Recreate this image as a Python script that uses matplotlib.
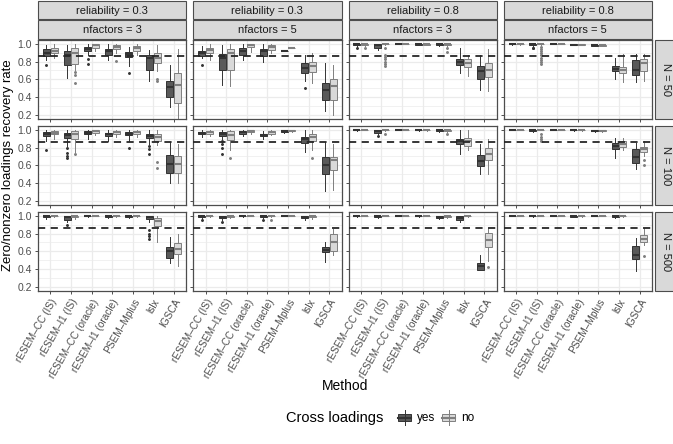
import matplotlib
matplotlib.use('Agg')
import matplotlib.pyplot as plt
from matplotlib.patches import Rectangle
from matplotlib.lines import Line2D

plt.rcParams['font.family'] = ['Liberation Sans', 'DejaVu Sans']

# ---------------- data ----------------
METHODS = ['rESEM–CC (IS)', 'rESEM–l1 (IS)', 'rESEM–CC (oracle)', 'rESEM–l1 (oracle)',
           'PSEM–Mplus', 'lslx', 'IGSCA']
RELIABILITY = ['0.3', '0.3', '0.8', '0.8']
NFACTORS = ['3', '5', '3', '5']
N_LABELS = ['50', '100', '500']
GROUPS = ['yes', 'no']
THRESHOLD = 0.86

# box statistics per panel: (whisker low, q1, median, q3, whisker high) for the 7 methods
# columns: (rel .3, nf 3), (rel .3, nf 5), (rel .8, nf 3), (rel .8, nf 5)
YES_N50 = [
    [(.82, .865, .90, .94, .99), (.61, .763, .876, .925, .99), (.876, .915, .94, .97, 1.0),
     (.82, .876, .915, .94, 1.0), (.75, .857, .887, .914, .97), (.575, .707, .84, .876, .93),
     (.29, .40, .512, .575, .763)],
    [(.84, .865, .895, .921, .98), (.538, .707, .84, .887, .99), (.82, .876, .92, .951, 1.0),
     (.80, .865, .915, .94, 1.0), (.915, .915, .915, .915, .915), (.575, .67, .726, .782, .876),
     (.238, .362, .482, .557, .79)],
    [(.96, .985, .995, 1, 1), (.93, .96, .985, 1, 1), (1, 1, 1, 1, 1),
     (.985, .99, .995, 1, 1), (.98, .99, .995, 1, 1), (.67, .763, .80, .827, .95),
     (.482, .602, .69, .745, .876)],
    [(.985, .995, 1, 1, 1), (.98, .985, .995, 1, 1), (1, 1, 1, 1, 1),
     (.985, .99, .99, .995, 1), (.975, .98, .985, .99, .995), (.60, .69, .715, .745, .84),
     (.565, .65, .707, .82, .887)],
]
NO_N50 = [
    [(.84, .895, .925, .96, 1.0), (.70, .775, .90, .96, 1.0), (.915, .96, .99, 1.0, 1.0),
     (.895, .94, .97, .99, 1.0), (.876, .92, .95, .977, 1.0), (.69, .782, .84, .895, .99),
     (.16, .33, .54, .67, .94)],
    [(.82, .902, .932, .951, 1.0), (.52, .707, .895, .94, 1.0), (.91, .962, .99, 1.0, 1.0),
     (.895, .932, .962, .99, 1.0), (.95, .95, .95, .95, .95), (.557, .677, .745, .80, .895),
     (.20, .37, .52, .602, .763)],
    [(.975, .99, 1, 1, 1), (.99, 1, 1, 1, 1), (1, 1, 1, 1, 1),
     (.985, .99, .995, 1, 1), (.97, .985, .995, 1, 1), (.632, .737, .782, .827, .876),
     (.463, .625, .707, .782, .94)],
    [(.985, .995, 1, 1, 1), (.99, 1, 1, 1, 1), (1, 1, 1, 1, 1),
     (.985, .99, .99, .995, 1), (.975, .98, .985, .99, .995), (.565, .67, .707, .737, .887),
     (.575, .69, .782, .827, .887)],
]
YES_N100 = [
    [(.88, .93, .96, .98, 1.0), (.82, .91, .94, .97, 1.0), (.90, .95, .97, .99, 1.0),
     (.88, .93, .95, .97, 1.0), (.88, .94, .96, .98, 1.0), (.84, .91, .93, .95, 1.0),
     (.40, .512, .617, .722, .86)],
    [(.92, .95, .965, .98, 1.0), (.90, .935, .955, .98, 1.0), (.93, .96, .975, .99, 1.0),
     (.90, .93, .945, .96, .99), (.97, .98, .99, 1.0, 1.0), (.748, .85, .90, .925, 1.0),
     (.31, .505, .60, .692, .86)],
    [(.99, 1, 1, 1, 1), (.95, .97, .99, 1, 1), (1, 1, 1, 1, 1),
     (.99, .995, 1, 1, 1), (.98, .99, .995, 1, 1), (.73, .842, .872, .90, 1.0),
     (.505, .587, .647, .711, .84)],
    [(.995, 1, 1, 1, 1), (.98, .99, 1, 1, 1), (1, 1, 1, 1, 1),
     (.99, .995, 1, 1, 1), (.98, .985, .99, .995, 1), (.685, .786, .824, .85, .91),
     (.56, .625, .692, .786, .85)],
]
NO_N100 = [
    [(.90, .95, .97, .99, 1.0), (.75, .90, .95, .99, 1.0), (.94, .97, .99, 1.0, 1.0),
     (.92, .96, .98, .99, 1.0), (.92, .96, .98, .99, 1.0), (.83, .872, .917, .96, 1.0),
     (.40, .512, .61, .70, .84)],
    [(.93, .96, .975, .99, 1.0), (.768, .887, .94, .99, 1.0), (.96, .98, .99, 1.0, 1.0),
     (.94, .96, .975, .99, 1.0), (.98, .985, .99, 1.0, 1.0), (.768, .872, .917, .955, 1.0),
     (.324, .542, .662, .692, .84)],
    [(1, 1, 1, 1, 1), (.99, 1, 1, 1, 1), (1, 1, 1, 1, 1),
     (.99, .995, 1, 1, 1), (.98, .99, .995, 1, 1), (.775, .824, .88, .91, 1.0),
     (.505, .655, .73, .797, .90)],
    [(1, 1, 1, 1, 1), (1, 1, 1, 1, 1), (1, 1, 1, 1, 1),
     (.99, .995, 1, 1, 1), (.98, .985, .99, .995, 1), (.768, .805, .842, .88, .91),
     (.70, .748, .786, .805, .87)],
]
YES_N500 = [
    [(.97, .985, .995, 1, 1), (.93, .96, .985, 1, 1), (.99, 1, 1, 1, 1),
     (.98, .99, .995, 1, 1), (.98, .99, .995, 1, 1), (.93, .97, .99, 1.0, 1.0),
     (.467, .523, .598, .647, .76)],
    [(.97, .985, .995, 1, 1), (.95, .975, .99, 1, 1), (.99, 1, 1, 1, 1),
     (.98, .99, .995, 1, 1), (1, 1, 1, 1, 1), (.96, .975, .99, 1, 1),
     (.474, .587, .617, .647, .71)],
    [(.99, 1, 1, 1, 1), (.98, .99, 1, 1, 1), (1, 1, 1, 1, 1),
     (.99, .995, 1, 1, 1), (.97, .98, .99, 1, 1), (.93, .96, .98, 1.0, 1.0),
     (.392, .392, .43, .467, .56)],
    [(1, 1, 1, 1, 1), (.99, 1, 1, 1, 1), (1, 1, 1, 1, 1),
     (.985, .99, .995, 1, 1), (1, 1, 1, 1, 1), (.98, .99, .995, 1, 1),
     (.373, .512, .56, .662, .748)],
]
NO_N500 = [
    [(.99, .995, 1, 1, 1), (.97, .985, .995, 1, 1), (1, 1, 1, 1, 1),
     (.99, .995, 1, 1, 1), (.99, .995, 1, 1, 1), (.71, .89, .94, .98, 1.0),
     (.437, .572, .624, .692, .797)],
    [(.99, .995, 1, 1, 1), (.98, .99, 1, 1, 1), (1, 1, 1, 1, 1),
     (.99, .995, 1, 1, 1), (1, 1, 1, 1, 1), (.97, .985, .995, 1, 1),
     (.56, .598, .70, .797, .85)],
    [(1, 1, 1, 1, 1), (1, 1, 1, 1, 1), (1, 1, 1, 1, 1),
     (.995, 1, 1, 1, 1), (.98, .99, .995, 1, 1), (.99, 1, 1, 1, 1),
     (.485, .647, .73, .805, .86)],
    [(1, 1, 1, 1, 1), (1, 1, 1, 1, 1), (1, 1, 1, 1, 1),
     (.99, 1, 1, 1, 1), (1, 1, 1, 1, 1), (.99, .995, 1, 1, 1),
     (.673, .70, .737, .786, .86)],
]
YES_STATS = [YES_N50, YES_N100, YES_N500]
NO_STATS = [NO_N50, NO_N100, NO_N500]

# outliers keyed by (row, column, method index)
OUT_YES = {
    (0, 0, 0): [.76], (0, 0, 2): [.83, .775], (0, 0, 4): [.67],
    (0, 1, 0): [.763], (0, 1, 5): [.50],
    (0, 2, 0): [.95], (0, 3, 1): [.96, .95],
    (1, 0, 0): [.775], (1, 0, 1): [.80, .74, .70, .685], (1, 0, 4): [.80], (1, 0, 5): [.82, .78, .73],
    (1, 1, 1): [.88, .84, .80, .73],
    (1, 2, 1): [.93],
    (2, 0, 1): [.90], (2, 0, 5): [.84, .80, .77, .74],
    (2, 1, 0): [.96], (2, 1, 1): [.93], (2, 1, 3): [.95],
}
OUT_NO = {
    (0, 0, 1): [.68, .65, .56], (0, 0, 3): [.81], (0, 0, 5): [.60, .575],
    (0, 2, 0): [.955], (0, 2, 1): [.96, .875, .85, .825, .80, .775, .755], (0, 2, 4): [.95, .91],
    (0, 3, 1): [.97, .945, .92, .895, .87, .845, .82, .795, .77],
    (1, 0, 1): [.73], (1, 0, 5): [.636, .57],
    (1, 1, 1): [.685], (1, 1, 5): [.685],
    (1, 2, 1): [.96], (1, 2, 4): [.95],
    (1, 3, 1): [.95, .925, .90, .875], (1, 3, 6): [.66, .598],
    (2, 1, 3): [.96],
    (2, 2, 6): [.42], (2, 3, 6): [.542],
}

# ---------------- layout ----------------
W, H = 673, 444
fig = plt.figure(figsize=(W / 100, H / 100), dpi=100)

def rect(x0, y0, w, h):
    return [x0 / W, 1 - (y0 + h) / H, w / W, h / H]

COL_X = [38, 193.25, 348.5, 503.75]
PW = 148.25
ROW_Y = [40, 126, 212]
PH = 79

FILL = {'yes': '#595959', 'no': '#d9d9d9'}
EDGE = {'yes': '#333333', 'no': '#7f7f7f'}
OFFS = {'yes': -0.19, 'no': 0.19}
BOXW = 0.34
TXT = '#4d4d4d'

def draw_group(ax, stats_list, outs, r, c, grp):
    stats = []
    for m, (lo, q1, med, q3, hi) in enumerate(stats_list):
        stats.append(dict(whislo=lo, q1=q1, med=med, q3=q3, whishi=hi,
                          fliers=outs.get((r, c, m), [])))
    pos = [m + 1 + OFFS[grp] for m in range(len(stats_list))]
    ax.bxp(stats, positions=pos, widths=BOXW, patch_artist=True, showcaps=False,
           manage_ticks=False,
           boxprops=dict(facecolor=FILL[grp], edgecolor=EDGE[grp], linewidth=0.7),
           medianprops=dict(color=EDGE[grp], linewidth=1.5),
           whiskerprops=dict(color=EDGE[grp], linewidth=0.7),
           flierprops=dict(marker='o', markersize=1.1, markerfacecolor=EDGE[grp],
                           markeredgecolor=EDGE[grp], linestyle='none'))

for r in range(3):
    for c in range(4):
        ax = fig.add_axes(rect(COL_X[c], ROW_Y[r], PW, PH))
        ax.set_xlim(0.4, 7.6)
        ax.set_ylim(0.15, 1.045)
        ax.set_xticks(range(1, 8))
        ax.set_yticks([0.2, 0.4, 0.6, 0.8, 1.0])
        ax.set_yticks([0.3, 0.5, 0.7, 0.9], minor=True)
        ax.grid(True, which='major', color='#ebebeb', linewidth=0.9, zorder=0)
        ax.grid(True, which='minor', axis='y', color='#ebebeb', linewidth=0.5, zorder=0)
        ax.set_axisbelow(True)
        for s in ax.spines.values():
            s.set_color('#4d4d4d')
            s.set_linewidth(0.9)
        ax.tick_params(which='major', length=2.5, width=0.6, color='#333333',
                       labelsize=7.5, labelcolor=TXT, pad=2)
        ax.tick_params(which='minor', length=0)
        draw_group(ax, YES_STATS[r][c], OUT_YES, r, c, 'yes')
        draw_group(ax, NO_STATS[r][c], OUT_NO, r, c, 'no')
        ax.axhline(THRESHOLD, color='#262626', linewidth=1.3, linestyle=(0, (4, 3)), zorder=6)
        if c == 0:
            ax.set_yticklabels(['0.2', '0.4', '0.6', '0.8', '1.0'])
        else:
            ax.set_yticklabels([])
        if r == 2:
            ax.set_xticklabels(METHODS, rotation=60, ha='right', va='top',
                               rotation_mode='anchor', fontsize=7.3)
        else:
            ax.set_xticklabels([])

# column strips
for c in range(4):
    for k, (txt, y0) in enumerate([(f'reliability = {RELIABILITY[c]}', 1),
                                   (f'nfactors = {NFACTORS[c]}', 20.5)]):
        fig.add_artist(Rectangle((COL_X[c] / W, 1 - (y0 + 18.5) / H), PW / W, 18.5 / H,
                                 transform=fig.transFigure, facecolor='#d9d9d9',
                                 edgecolor='#4d4d4d', linewidth=0.8))
        fig.text((COL_X[c] + PW / 2) / W, 1 - (y0 + 9.5) / H, txt, ha='center',
                 va='center', fontsize=8, color='#1a1a1a')

# row strips
SX = 654.5
for r in range(3):
    fig.add_artist(Rectangle((SX / W, 1 - (ROW_Y[r] + PH) / H), 25 / W, PH / H,
                             transform=fig.transFigure, facecolor='#d9d9d9',
                             edgecolor='#4d4d4d', linewidth=0.8))
    fig.text(666 / W, 1 - (ROW_Y[r] + PH / 2) / H, f'N = {N_LABELS[r]}', rotation=-90,
             ha='center', va='center', fontsize=8, color='#1a1a1a')

# axis titles
fig.text(8 / W, 1 - ((ROW_Y[0] + ROW_Y[2] + PH) / 2) / H,
         'Zero/nonzero loadings recovery rate', rotation=90, ha='center', va='center',
         fontsize=9.5)
fig.text(((COL_X[0] + COL_X[3] + PW) / 2) / W, 1 - 386 / H, 'Method',
         ha='center', va='center', fontsize=10)

# legend
fig.text(286 / W, 1 - 418 / H, 'Cross loadings', ha='left', va='center', fontsize=10.5)
for grp, kx, label in [('yes', 396, 'yes'), ('no', 440, 'no')]:
    kax = fig.add_axes(rect(kx, 409, 17, 17))
    kax.set_xlim(0, 1)
    kax.set_ylim(0, 1)
    kax.axis('off')
    kax.add_line(Line2D([0.5, 0.5], [0.08, 0.92], color=EDGE[grp], linewidth=0.7))
    kax.add_patch(Rectangle((0.1, 0.27), 0.8, 0.46, facecolor=FILL[grp],
                            edgecolor=EDGE[grp], linewidth=0.7))
    kax.add_line(Line2D([0.1, 0.9], [0.5, 0.5], color=EDGE[grp], linewidth=1.5))
    fig.text((kx + 21) / W, 1 - 418 / H, label, ha='left', va='center', fontsize=8.5)

fig.savefig('out.png', dpi=100)
